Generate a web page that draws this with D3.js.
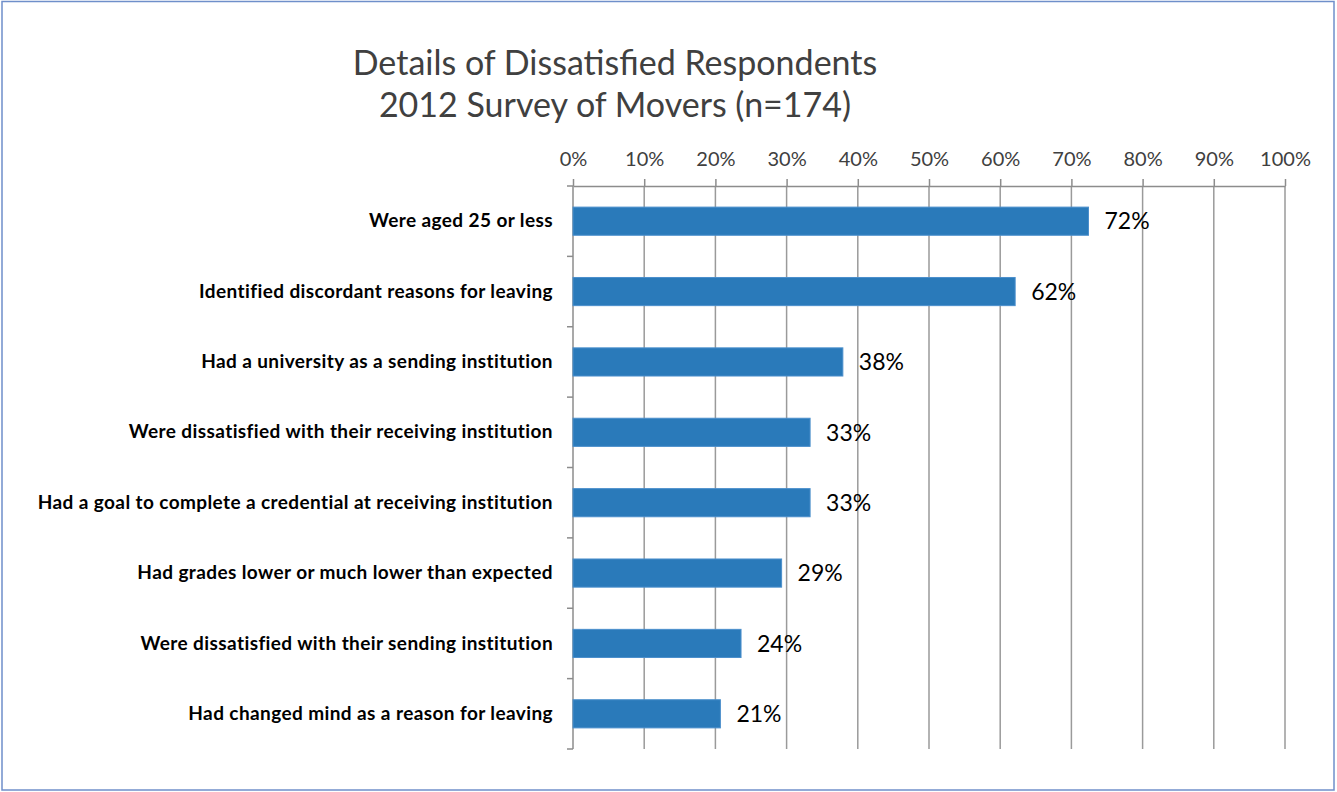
<!DOCTYPE html>
<html>
<head>
<meta charset="utf-8">
<script src="https://cdn.jsdelivr.net/npm/d3@7"></script>
<style>
  body { margin: 0; background: #fff; }
  svg { display: block; }
</style>
</head>
<body>
<script>
// chart data
const categories = [
  "Were aged 25 or less",
  "Identified discordant reasons for leaving",
  "Had a university as a sending institution",
  "Were dissatisfied with their receiving institution",
  "Had a goal to complete a credential at receiving institution",
  "Had grades lower or much lower than expected",
  "Were dissatisfied with their sending institution",
  "Had changed mind as a reason for leaving"
];
const values = [0.724, 0.621, 0.379, 0.333, 0.333, 0.293, 0.236, 0.207];
const xTicks = [0, 0.1, 0.2, 0.3, 0.4, 0.5, 0.6, 0.7, 0.8, 0.9, 1.0];
const titleLines = ["Details of Dissatisfied Respondents", "2012 Survey of Movers (n=174)"];

let canvasW = 1337;
let canvasH = 792;
let font = "Lato, 'Open Sans', sans-serif";

let svg = d3.select("body")
  .append("svg")
    .attr("width", canvasW)
    .attr("height", canvasH);

// outer chart border
svg.append("rect")
  .attr("x", 2).attr("y", 1.5)
  .attr("width", 1332).attr("height", 788.5)
  .attr("fill", "white")
  .attr("stroke", "#6f8fca")
  .attr("stroke-width", 1.5);

let xScale = d3.scaleLinear()
  .domain([0, 1])
  .range([573, 1285]);

let yScale = d3.scaleBand()
  .domain(categories)
  .range([186, 749])
  .paddingInner(0.6)
  .paddingOuter(0.3);

// title
svg.selectAll(".title")
  .data(titleLines)
  .enter()
  .append("text")
    .attr("class", "title")
    .attr("x", 615)
    .attr("y", (d, i) => 75 + i * 42)
    .attr("text-anchor", "middle")
    .attr("font-family", font)
    .attr("font-size", "34px")
    .attr("fill", "#404040")
    .text(d => d);

// vertical gridlines
svg.append("g")
  .selectAll("line")
  .data(xTicks.slice(1))
  .enter()
  .append("line")
    .attr("x1", d => xScale(d)).attr("x2", d => xScale(d))
    .attr("y1", 186).attr("y2", 749)
    .attr("stroke", "#9a9a9a")
    .attr("stroke-width", 1.5);

// top axis
const xAxis = svg.append("g")
  .attr("transform", "translate(0,186)")
  .call(d3.axisTop(xScale)
    .tickValues(xTicks)
    .tickFormat(d3.format(".0%"))
    .tickSize(7)
    .tickPadding(13)
    .tickSizeOuter(0));
xAxis.select(".domain").attr("stroke", "#8c8c8c").attr("stroke-width", 1.5);
xAxis.selectAll(".tick line").attr("stroke", "#8c8c8c").attr("stroke-width", 1.5);
xAxis.selectAll("text")
  .attr("font-family", font)
  .attr("font-size", "20px")
  .attr("fill", "#404040");

// category labels
const yAxis = svg.append("g")
  .attr("transform", "translate(573,0)")
  .call(d3.axisLeft(yScale).tickSize(0).tickPadding(20));
yAxis.select(".domain").remove();
yAxis.selectAll("text")
  .attr("font-family", font)
  .attr("font-size", "19px")
  .attr("letter-spacing", "0.4px")
  .attr("font-weight", "bold")
  .attr("fill", "#000");

// left axis line and category boundary ticks
svg.append("line")
  .attr("x1", 573).attr("x2", 573)
  .attr("y1", 186).attr("y2", 749)
  .attr("stroke", "#8c8c8c").attr("stroke-width", 1.5);

svg.append("g")
  .selectAll("line")
  .data(d3.range(categories.length + 1))
  .enter()
  .append("line")
    .attr("x1", 567).attr("x2", 573)
    .attr("y1", i => yScale.range()[0] + i * yScale.step())
    .attr("y2", i => yScale.range()[0] + i * yScale.step())
    .attr("stroke", "#8c8c8c").attr("stroke-width", 1.5);

// bars
svg.selectAll(".bar")
  .data(values)
  .enter()
  .append("rect")
    .attr("class", "bar")
    .attr("x", xScale(0))
    .attr("y", (d, i) => yScale(categories[i]))
    .attr("width", d => xScale(d) - xScale(0))
    .attr("height", yScale.bandwidth())
    .attr("fill", "#2a7aba")
    .attr("stroke", "#4b8fcc")
    .attr("stroke-width", 1);

// value labels
svg.selectAll(".lbl")
  .data(values)
  .enter()
  .append("text")
    .attr("class", "lbl")
    .attr("x", d => xScale(d) + 16)
    .attr("y", (d, i) => yScale(categories[i]) + yScale.bandwidth() / 2)
    .attr("dy", "0.36em")
    .attr("font-family", font)
    .attr("font-size", "23px")
    .attr("fill", "#000")
    .text(d => d3.format(".0%")(d));
</script>
</body>
</html>
